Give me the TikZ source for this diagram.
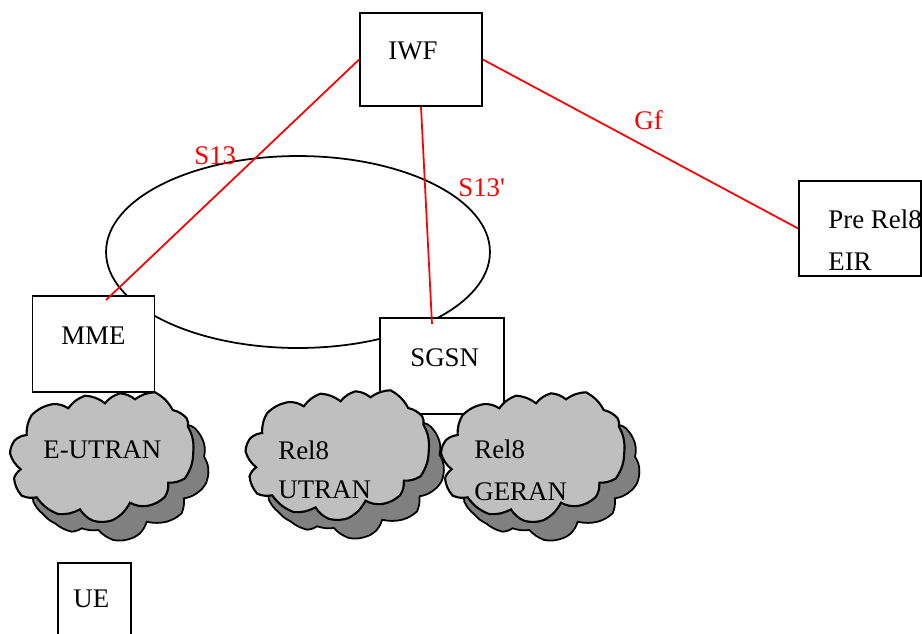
\documentclass[tikz,border=0pt]{standalone}
\usepackage{fontspec}
\setmainfont{Liberation Serif}
\usetikzlibrary{shapes.geometric}

\definecolor{cloudback}{gray}{0.5}
\definecolor{cloudfront}{gray}{0.75}

\tikzset{
    netbox/.style={draw, rectangle, fill=white, line width=1pt, inner sep=0pt},
    lbl/.style={anchor=base west, inner sep=0pt, font=\fontsize{15.3}{18}\selectfont},
    redlbl/.style={lbl, text=red},
    refline/.style={draw=red, line width=1pt},
    pics/netcloud/.style={code={
        \draw[fill=cloudback, line width=1pt] (188.3,425)
            \foreach \cx/\cy in {195/428.3,204/443.3,204/456.7,208.3/468.3,206/483.3,196.7/493.3,
                184/498.3,181.7/513.3,166.7/521.7,146.7/521.7,140/533.3,128.3/539.3,113.3/540,
                98.3/530,81.7/528.3,71.7/531.7,55/523.3,43.3/514.3,33.3/501.7,40/440,100/410,188.3/425}
            { to[bend left=12] (\cx,\cy) } -- cycle;
        \draw[fill=cloudfront, line width=1.2pt] (26.7,435)
            \foreach \cx/\cy in {31.7/415,53.3/404,68.3/408.3,85/395.7,105/403.3,120/393.3,135/399.3,
                155/392.3,172.7/410,186.7/418.3,188/426.7,193.3/451.7,185/478.3,168.3/482.7,
                165/496.7,146.7/506,130/502.7,113/520,93/520.7,80/509.3,58/514,36.7/497.3,
                21.7/495.7,14/478.3,20.7/469.3,10/453.3,15/440,26.7/435}
            { to[bend left=16] (\cx,\cy) } -- cycle;
    }}
}

\begin{document}
\begin{tikzpicture}[x=0.02cm, y=-0.02cm]

    \clip (0,0) rectangle (922,633);

    % signalling pool behind the boxes
    \node[draw, ellipse, line width=1pt, inner sep=0pt, minimum width=7.68cm, minimum height=3.84cm] (pool) at (298,252) {};

    \node[netbox, minimum width=2.44cm, minimum height=1.86cm] (IWF) at (421,59.5) {};
    \node[netbox, minimum width=2.44cm, minimum height=1.92cm] (MME) at (93.5,344) {};
    \node[netbox, minimum width=2.48cm, minimum height=1.92cm] (SGSN) at (442,366) {};
    \node[netbox, minimum width=2.44cm, minimum height=1.90cm] (EIR) at (860,228.5) {};
    \node[netbox, minimum width=1.46cm, minimum height=1.70cm] (UE) at (94.5,605.5) {};

    \coordinate (MMEend) at (106,300);
    \coordinate (SGSNend) at (432,324);

    % radio networks
    \path (0,0) pic {netcloud};
    \path (235.5,-2) pic {netcloud};
    \path (431,0) pic {netcloud};

    \draw[refline] (IWF.west) -- (MMEend);
    \draw[refline] (IWF.south) -- (SGSNend);
    \draw[refline] (IWF.east) -- (EIR.west);

    \node[lbl] (IWFtxt) at (388,59) {IWF};
    \node[lbl] (MMEtxt) at (61,344) {MME};
    \node[lbl] (SGSNtxt) at (410,366) {SGSN};
    \node[lbl] (EIRtxta) at (828,228) {Pre Rel8};
    \node[lbl] (EIRtxtb) at (828,270) {EIR};
    \node[lbl] (UEtxt) at (73,607) {UE};
    \node[lbl] (EUTRANtxt) at (43,458) {E-UTRAN};
    \node[lbl] (UTRANtxta) at (278,459) {Rel8};
    \node[lbl] (UTRANtxtb) at (278,498) {UTRAN};
    \node[lbl] (GERANtxta) at (474,458) {Rel8};
    \node[lbl] (GERANtxtb) at (474,500) {GERAN};

    \node[redlbl] (S13) at (194,164) {S13};
    \node[redlbl] (S13p) at (458,196) {S13\textquotesingle};
    \node[redlbl] (Gf) at (634,129) {Gf};

\end{tikzpicture}
\end{document}
